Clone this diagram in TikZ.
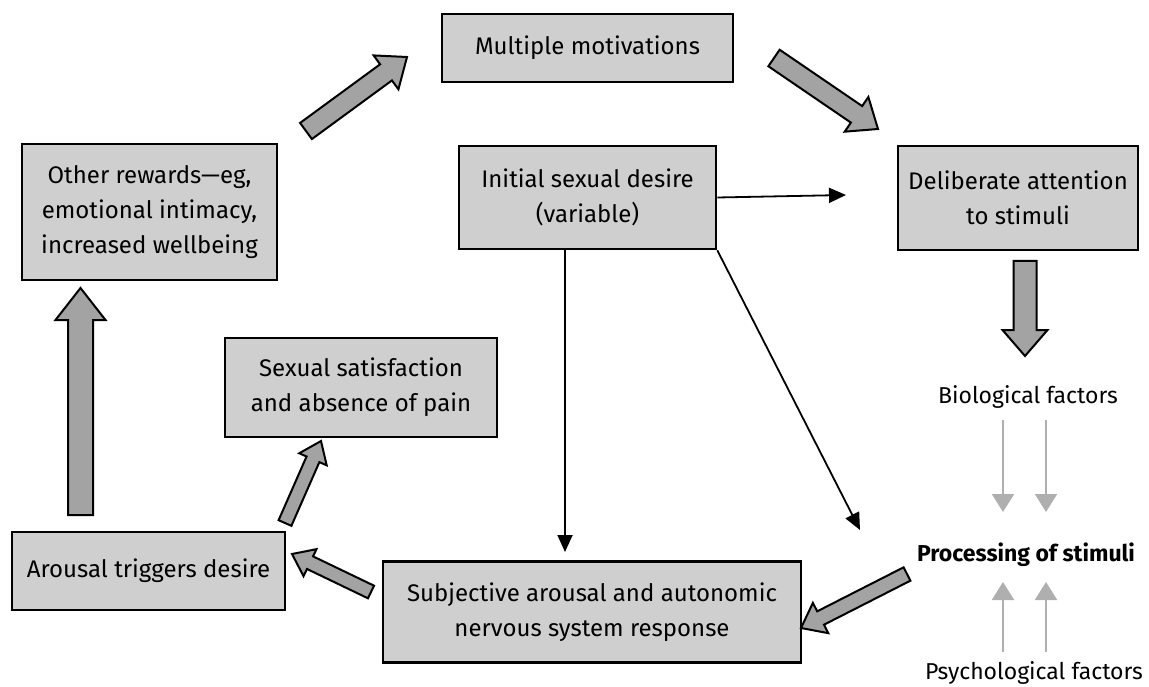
\documentclass[tikz,border=0pt]{standalone}
\usepackage{fontspec}
\setmainfont{Fira Sans}
\usetikzlibrary{arrows.meta,calc}
\definecolor{boxgray}{HTML}{CFCFCF}
\definecolor{arrgray}{HTML}{A3A3A3}
\definecolor{thingray}{HTML}{AFAFAF}
\newcommand\blockarr[5]{% from, to, shaft half width, head half width, head length
  \coordinate (ba-hb) at ($(#2)!#5!(#1)$);
  \filldraw[blockarrow]
    ($(#1)!#3!90:(#2)$) -- ($(ba-hb)!#3!-90:(#1)$) -- ($(ba-hb)!#4!-90:(#1)$) -- (#2)
    -- ($(ba-hb)!#4!90:(#1)$) -- ($(ba-hb)!#3!90:(#1)$) -- ($(#1)!#3!-90:(#2)$) -- cycle;
}
\begin{document}
\begin{tikzpicture}[x=1pt,y=-1pt,
  box/.style={draw=black, fill=boxgray, line width=2.6pt, inner sep=0pt, align=center,
    font=\fontsize{24}{35}\selectfont},
  blockarrow/.style={fill=arrgray, draw=black, line width=2pt, line join=miter},
  thin/.style={draw=black, line width=1.8pt, -{Triangle[length=17pt,width=15pt]}},
  grayarr/.style={draw=thingray, line width=2pt, -{Triangle[length=18pt,width=22pt]}},
  lbl/.style={inner sep=0pt, font=\fontsize{23}{30}\selectfont}]
\useasboundingbox (0,0) rectangle (1149,687);

% boxes
\node[box, minimum width=291pt, minimum height=68pt] (mm) at (587.5,48) {Multiple motivations};
\node[box, minimum width=255pt, minimum height=136pt] (or) at (149.5,212) {Other rewards---eg,\\emotional intimacy,\\increased wellbeing};
\node[box, minimum width=257pt, minimum height=103pt] (isd) at (587.5,197.5) {Initial sexual desire\\(variable)};
\node[box, minimum width=240pt, minimum height=104pt] (da) at (1018,198) {Deliberate attention\\to stimuli};
\node[box, minimum width=272pt, minimum height=99pt] (ss) at (361,387.5) {Sexual satisfaction\\and absence of pain};
\node[box, minimum width=273pt, minimum height=78pt] (at) at (148.5,571) {Arousal triggers desire};
\node[box, minimum width=418pt, minimum height=101pt] (sa) at (592,612) {Subjective arousal and autonomic\\nervous system response};

% labels
\node[lbl] (bio) at (1028,397) {Biological factors};
\node[lbl, font=\fontsize{23}{30}\selectfont\bfseries] (proc) at (1026,555) {Processing of stimuli};
\node[lbl] (psy) at (1034,673) {Psychological factors};

% block arrows
\coordinate (a1s) at (306,131); \coordinate (a1e) at (407,57);
\blockarr{a1s}{a1e}{10pt}{21pt}{26pt}
\coordinate (a2s) at (774,58); \coordinate (a2e) at (878,129);
\blockarr{a2s}{a2e}{10pt}{21pt}{26pt}
\coordinate (a3s) at (1025,261); \coordinate (a3e) at (1025,356);
\blockarr{a3s}{a3e}{11.5pt}{22.5pt}{26pt}
\coordinate (a4s) at (907,574); \coordinate (a4e) at (801,628);
\blockarr{a4s}{a4e}{7.5pt}{17pt}{22pt}
\coordinate (a5s) at (371,592); \coordinate (a5e) at (292,554);
\blockarr{a5s}{a5e}{7pt}{15pt}{20pt}
\coordinate (a6s) at (285,523); \coordinate (a6e) at (321,441);
\blockarr{a6s}{a6e}{7pt}{15pt}{20pt}
\coordinate (a7s) at (80.5,515); \coordinate (a7e) at (80.5,288);
\blockarr{a7s}{a7e}{12.5pt}{25pt}{32pt}

% thin black arrows
\coordinate (t1) at (846,195);
\coordinate (t2) at (565,552);
\coordinate (t3) at (860,530);
\draw[thin] (isd.east) -- (t1);
\draw[thin] (isd.south -| t2) -- (t2);
\draw[thin] (isd.south east) -- (t3);

% gray thin arrows
\coordinate (g1s) at (1003,420); \coordinate (g1e) at (1003,512);
\coordinate (g2s) at (1046,420); \coordinate (g2e) at (1046,512);
\coordinate (g3s) at (1003,652); \coordinate (g3e) at (1003,582);
\coordinate (g4s) at (1046,652); \coordinate (g4e) at (1046,582);
\draw[grayarr] (g1s) -- (g1e);
\draw[grayarr] (g2s) -- (g2e);
\draw[grayarr] (g3s) -- (g3e);
\draw[grayarr] (g4s) -- (g4e);
\end{tikzpicture}
\end{document}
